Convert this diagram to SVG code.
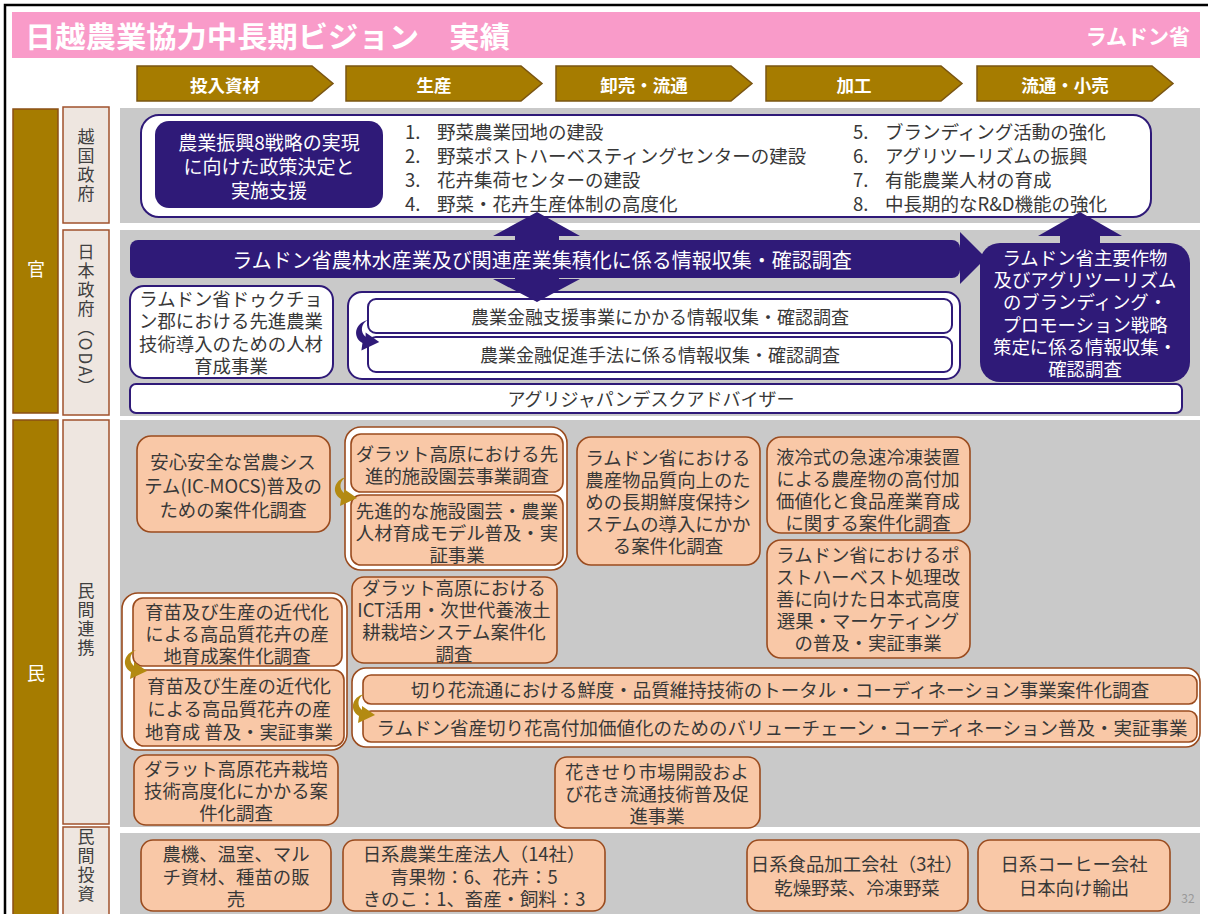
<svg xmlns="http://www.w3.org/2000/svg" width="1208" height="914" viewBox="0 0 1208 914">
<defs>
<style>
text{font-family:'Noto Sans CJK JP','Noto Sans CJK SC',sans-serif;dominant-baseline:central;}
.c{text-anchor:middle}
.w{fill:#fff}
.d{fill:#383838}
.f18{font-size:18.4px}
.f19{font-size:18.5px}
.panel{fill:#C9C9C9}
.gold{fill:#A67C00;stroke:#8A4F16;stroke-width:1.5}
.beige{fill:#EEE6E0;stroke:#A0522D;stroke-width:1.5}
.chev{fill:#A67C00;stroke:#7A5512;stroke-width:1.5}
.chevt{font-size:17.5px;font-weight:bold;fill:#fff;text-anchor:middle}
.navy{fill:#2F1A78}
.wn{fill:#fff;stroke:#2F1A78;stroke-width:2}
.pe{fill:#F9C8A7;stroke:#9A4B1E;stroke-width:1.6}
.wb{fill:#fff;stroke:#9A4B1E;stroke-width:1.6}
.vt{writing-mode:vertical-rl;text-anchor:middle;font-size:17px;fill:#404040;letter-spacing:2px}
.garr{fill:#B38A12}
.narr{fill:#2F1A78}
</style>
<path id="carr" d="M14 0 C2 3 -1 16 9 22 L8 29 L25 21 L12 12 L12 16 C7 12 7 4 14 0 Z"/>
</defs>

<rect x="0" y="0" width="1208" height="914" fill="#fff"/>
<path d="M5 914 V5 H1208" fill="none" stroke="#000" stroke-width="2.5"/>

<g id="header">
<rect x="12" y="12" width="1188" height="46" fill="#F99BC9"/>
<text x="25" y="35" font-size="29" font-weight="bold" fill="#fff" textLength="485" lengthAdjust="spacingAndGlyphs">日越農業協力中長期ビジョン　実績</text>
<text x="1190" y="35" font-size="21" font-weight="bold" fill="#fff" text-anchor="end">ラムドン省</text>
</g>

<g id="stages">
<path class="chev" d="M137 66 H312 L333 83.5 L312 101 H137 Z"/><text class="chevt" x="225" y="84">投入資材</text>
<path class="chev" d="M346 66 H521 L542 83.5 L521 101 H346 Z"/><text class="chevt" x="434" y="84">生産</text>
<path class="chev" d="M556 66 H731 L752 83.5 L731 101 H556 Z"/><text class="chevt" x="644" y="84">卸売・流通</text>
<path class="chev" d="M766 66 H941 L962 83.5 L941 101 H766 Z"/><text class="chevt" x="854" y="84">加工</text>
<path class="chev" d="M977 66 H1152 L1173 83.5 L1152 101 H977 Z"/><text class="chevt" x="1065" y="84">流通・小売</text>
</g>

<g id="row-labels">
<rect class="gold" x="13" y="109" width="45" height="304"/>
<text x="36" y="268" class="c w" font-size="18">官</text>
<rect class="gold" x="13" y="420" width="45" height="500"/>
<text x="36" y="672" class="c w" font-size="18">民</text>
<rect class="beige" x="63" y="107" width="46" height="116"/>
<text class="vt" x="86" y="166">越国政府</text>
<rect class="beige" x="63" y="230" width="46" height="185"/>
<text class="vt" x="86" y="320">日本政府（ODA）</text>
<rect class="beige" x="63" y="420" width="46" height="404"/>
<text class="vt" x="86" y="620">民間連携</text>
<rect class="beige" x="63" y="827" width="46" height="95"/>
<text class="vt" x="86" y="866">民間投資</text>
</g>

<g id="panels">
<rect class="panel" x="120" y="108" width="1080" height="115"/>
<rect class="panel" x="120" y="230" width="1080" height="186"/>
<rect class="panel" x="120" y="420" width="1080" height="407"/>
<rect class="panel" x="120" y="833" width="1080" height="90"/>
</g>

<g id="vn-gov">
<rect class="wn" x="141" y="115" width="1010" height="102" rx="18"/>
<rect class="navy" x="155" y="121" width="228" height="87" rx="14"/>
<text class="c w" font-size="19"><tspan x="269" y="140.5">農業振興8戦略の実現</tspan><tspan x="269" y="164.5">に向けた政策決定と</tspan><tspan x="269" y="188.5">実施支援</tspan></text>
<text class="d" font-size="18.5"><tspan x="405" y="131">1.</tspan><tspan x="405" y="155">2.</tspan><tspan x="405" y="179">3.</tspan><tspan x="405" y="203">4.</tspan></text>
<text class="d" font-size="18.5"><tspan x="437" y="131">野菜農業団地の建設</tspan><tspan x="437" y="155">野菜ポストハーベスティングセンターの建設</tspan><tspan x="437" y="179">花卉集荷センターの建設</tspan><tspan x="437" y="203">野菜・花卉生産体制の高度化</tspan></text>
<text class="d" font-size="18.5"><tspan x="853" y="131">5.</tspan><tspan x="853" y="155">6.</tspan><tspan x="853" y="179">7.</tspan><tspan x="853" y="203">8.</tspan></text>
<text class="d" font-size="18.5"><tspan x="885" y="131">ブランディング活動の強化</tspan><tspan x="885" y="155">アグリツーリズムの振興</tspan><tspan x="885" y="179">有能農業人材の育成</tspan><tspan x="885" y="203">中長期的なR&amp;D機能の強化</tspan></text>
</g>

<g id="oda-cluster-survey">
<rect class="navy" x="130" y="240" width="830" height="38" rx="8"/>
<text class="c w" x="542" y="259" font-size="20">ラムドン省農林水産業及び関連産業集積化に係る情報収集・確認調査</text>
</g>

<g id="oda-branding">
<rect class="navy" x="980" y="243" width="210" height="139" rx="20"/>
<text class="c w f18"><tspan x="1085" y="257">ラムドン省主要作物</tspan><tspan x="1085" y="279.2">及びアグリツーリズム</tspan><tspan x="1085" y="301.4">のブランディング・</tspan><tspan x="1085" y="323.6">プロモーション戦略</tspan><tspan x="1085" y="345.8">策定に係る情報収集・</tspan><tspan x="1085" y="368">確認調査</tspan></text>
</g>

<g id="oda-duc-trong">
<rect class="wn" x="130" y="286" width="203" height="92" rx="14"/>
<text class="c d f18"><tspan x="231" y="298">ラムドン省ドゥクチョ</tspan><tspan x="231" y="320.3">ン郡における先進農業</tspan><tspan x="231" y="342.6">技術導入のための人材</tspan><tspan x="231" y="365">育成事業</tspan></text>
</g>

<g id="oda-finance">
<rect class="wn" x="348" y="292" width="612" height="87" rx="14"/>
<rect class="wn" x="368" y="299" width="584" height="34" rx="8"/>
<rect class="wn" x="368" y="337" width="584" height="35" rx="8"/>
<text class="c d" x="660" y="316" font-size="18">農業金融支援事業にかかる情報収集・確認調査</text>
<text class="c d" x="660" y="354" font-size="18">農業金融促進手法に係る情報収集・確認調査</text>
</g>

<g id="oda-desk">
<rect class="wn" x="130" y="384" width="1052" height="29" rx="6"/>
<text class="c d" x="651" y="398" font-size="18">アグリジャパンデスクアドバイザー</text>
</g>

<g id="ppp-ic-mocs">
<rect class="pe" x="137" y="436" width="193" height="96" rx="14"/>
<text class="c d f18"><tspan x="233" y="461">安心安全な営農シス</tspan><tspan x="233" y="485">テム(IC-MOCS)普及の</tspan><tspan x="233" y="509">ための案件化調査</tspan></text>
</g>

<g id="ppp-dalat-greenhouse">
<rect class="wb" x="345" y="427" width="222" height="143" rx="16"/>
<rect class="pe" x="351" y="434" width="212" height="58" rx="10"/>
<rect class="pe" x="351" y="495" width="212" height="70" rx="10"/>
<text class="c d f18"><tspan x="457" y="453">ダラット高原における先</tspan><tspan x="457" y="475">進的施設園芸事業調査</tspan></text>
<text class="c d f18"><tspan x="457" y="510">先進的な施設園芸・農業</tspan><tspan x="457" y="532">人材育成モデル普及・実</tspan><tspan x="457" y="554">証事業</tspan></text>
</g>

<g id="ppp-freshness">
<rect class="pe" x="577" y="437" width="183" height="128" rx="14"/>
<text class="c d f18"><tspan x="668" y="457">ラムドン省における</tspan><tspan x="668" y="479">農産物品質向上のた</tspan><tspan x="668" y="501">めの長期鮮度保持シ</tspan><tspan x="668" y="523">ステムの導入にかか</tspan><tspan x="668" y="545">る案件化調査</tspan></text>
</g>

<g id="ppp-freezing">
<rect class="pe" x="767" y="437" width="203" height="96" rx="14"/>
<text class="c d f18"><tspan x="868" y="456">液冷式の急速冷凍装置</tspan><tspan x="868" y="478">による農産物の高付加</tspan><tspan x="868" y="500">価値化と食品産業育成</tspan><tspan x="868" y="522">に関する案件化調査</tspan></text>
</g>

<g id="ppp-postharvest">
<rect class="pe" x="767" y="540" width="203" height="118" rx="14"/>
<text class="c d f18"><tspan x="868" y="554">ラムドン省におけるポ</tspan><tspan x="868" y="576">ストハーベスト処理改</tspan><tspan x="868" y="598">善に向けた日本式高度</tspan><tspan x="868" y="620">選果・マーケティング</tspan><tspan x="868" y="642">の普及・実証事業</tspan></text>
</g>

<g id="ppp-ict">
<rect class="pe" x="352" y="577" width="205" height="86" rx="12"/>
<text class="c d f18"><tspan x="454" y="587">ダラット高原における</tspan><tspan x="454" y="609">ICT活用・次世代養液土</tspan><tspan x="454" y="631">耕栽培システム案件化</tspan><tspan x="454" y="653">調査</tspan></text>
</g>

<g id="ppp-seedling">
<rect class="wb" x="122" y="593" width="225" height="157" rx="16"/>
<rect class="pe" x="133" y="598" width="209" height="68" rx="10"/>
<rect class="pe" x="134" y="670" width="210" height="76" rx="10"/>
<text class="c d f18"><tspan x="237" y="611">育苗及び生産の近代化</tspan><tspan x="237" y="633">による高品質花卉の産</tspan><tspan x="237" y="655">地育成案件化調査</tspan></text>
<text class="c d f18"><tspan x="239" y="685">育苗及び生産の近代化</tspan><tspan x="239" y="708">による高品質花卉の産</tspan><tspan x="239" y="731">地育成 普及・実証事業</tspan></text>
</g>

<g id="ppp-cutflower">
<rect class="wb" x="352" y="668" width="848" height="79" rx="14"/>
<rect class="pe" x="363" y="675" width="834" height="29" rx="8"/>
<rect class="pe" x="363" y="711" width="834" height="31" rx="8"/>
<text class="c d f19" x="780" y="689">切り花流通における鮮度・品質維持技術のトータル・コーディネーション事業案件化調査</text>
<text class="c d f19" x="782" y="727">ラムドン省産切り花高付加価値化のためのバリューチェーン・コーディネーション普及・実証事業</text>
</g>

<g id="ppp-dalat-flower">
<rect class="pe" x="134" y="755" width="204" height="70" rx="12"/>
<text class="c d f18"><tspan x="236" y="768">ダラット高原花卉栽培</tspan><tspan x="236" y="790">技術高度化にかかる案</tspan><tspan x="236" y="812">件化調査</tspan></text>
</g>

<g id="ppp-auction">
<rect class="pe" x="555" y="757" width="205" height="71" rx="12"/>
<text class="c d f18"><tspan x="657" y="771">花きせり市場開設およ</tspan><tspan x="657" y="793">び花き流通技術普及促</tspan><tspan x="657" y="815">進事業</tspan></text>
</g>

<g id="inv-machinery">
<rect class="pe" x="141" y="840" width="190" height="71" rx="12"/>
<text class="c d f18"><tspan x="236" y="853">農機、温室、マル</tspan><tspan x="236" y="875.5">チ資材、種苗の販</tspan><tspan x="236" y="898">売</tspan></text>
</g>

<g id="inv-agri-corps">
<rect class="pe" x="343" y="840" width="262" height="71" rx="12"/>
<text class="c d f18"><tspan x="474" y="853">日系農業生産法人（14社）</tspan><tspan x="474" y="875.5">青果物：6、花卉：5</tspan><tspan x="474" y="898">きのこ：1、畜産・飼料：3</tspan></text>
</g>

<g id="inv-food">
<rect class="pe" x="747" y="840" width="221" height="71" rx="12"/>
<text class="c d f18"><tspan x="857" y="863">日系食品加工会社（3社）</tspan><tspan x="857" y="887">乾燥野菜、冷凍野菜</tspan></text>
</g>

<g id="inv-coffee">
<rect class="pe" x="978" y="840" width="192" height="71" rx="12"/>
<text class="c d f18"><tspan x="1074" y="863">日系コーヒー会社</tspan><tspan x="1074" y="887">日本向け輸出</tspan></text>
</g>

<text x="1188" y="897" font-size="12" fill="#999" text-anchor="middle">32</text>

<g id="connectors">
<polygon class="narr" points="493,236 537,212 580,236 559,236 559,246 515,246 515,236"/>
<polygon class="narr" points="515,270 559,270 559,279 580,279 537,302 493,279 515,279"/>
<polygon class="narr" points="1038,236 1080,212 1122,236 1100,236 1100,248 1060,248 1060,236"/>
<polygon class="narr" points="950,248 960,248 960,232 986,258 960,284 960,270 950,270"/>
<use href="#carr" class="narr" transform="translate(353,320) scale(1.05)"/>
<use href="#carr" class="garr" transform="translate(332,477)"/>
<use href="#carr" class="garr" transform="translate(122,650)"/>
<use href="#carr" class="garr" transform="translate(350,694)"/>
</g>
</svg>
